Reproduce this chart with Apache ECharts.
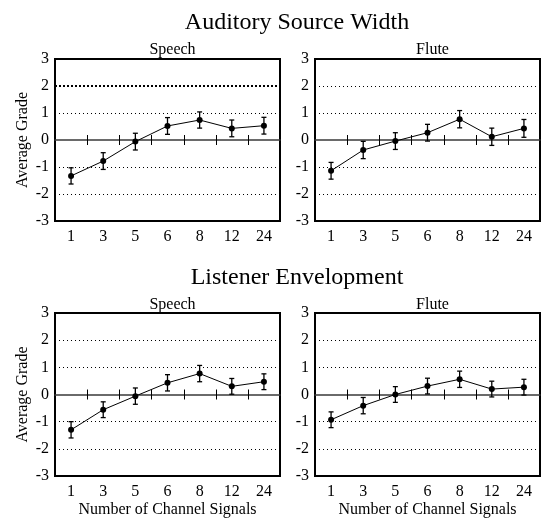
<!DOCTYPE html>
<html><head><meta charset="utf-8">
<script src="https://cdn.jsdelivr.net/npm/echarts@6/dist/echarts.min.js"></script>
<style>html,body{margin:0;padding:0;background:#fff}#c{width:542px;height:528px}</style>
</head><body><div id="c"></div>
<script>
const categories = ['1','3','5','6','8','12','24'];
const yTicks = [-3,-2,-1,0,1,2,3];
const aswSpeech = [-1.33,-0.78,-0.06,0.52,0.74,0.43,0.53];
const aswSpeechErr = [0.30,0.31,0.31,0.31,0.30,0.31,0.31];
const aswFlute = [-1.14,-0.37,-0.04,0.27,0.77,0.12,0.43];
const aswFluteErr = [0.31,0.32,0.31,0.31,0.32,0.32,0.33];
const leSpeech = [-1.30,-0.56,-0.06,0.43,0.77,0.30,0.47];
const leSpeechErr = [0.30,0.29,0.30,0.30,0.30,0.29,0.29];
const leFlute = [-0.93,-0.41,0.00,0.31,0.56,0.20,0.27];
const leFluteErr = [0.29,0.30,0.29,0.29,0.30,0.29,0.29];

const panels = [
  {vals: aswSpeech, err: aswSpeechErr, sub: 'Speech'},
  {vals: aswFlute, err: aswFluteErr, sub: 'Flute'},
  {vals: leSpeech, err: leSpeechErr, sub: 'Speech'},
  {vals: leFlute, err: leFluteErr, sub: 'Flute'}
];
const F = 'Liberation Serif, Times New Roman, serif';
const rects = [
  {left:55, top:59, width:225, height:162},
  {left:315, top:59, width:225, height:162},
  {left:55, top:313, width:225, height:163},
  {left:315, top:313, width:225, height:163}
];
const gridVals = yTicks.filter(v => v !== 0 && Math.abs(v) !== 3);
const grid = [], xAxis = [], yAxis = [], series = [];
rects.forEach((r, i) => {
  grid.push(Object.assign({show:true, borderColor:'#000', borderWidth:2, backgroundColor:'transparent'}, r));
  const base = {type:'category', data:categories, gridIndex:i, boundaryGap:true, position:'bottom'};
  xAxis.push(Object.assign({}, base, {axisLine:{show:false, onZero:false}, axisTick:{show:false},
    axisLabel:{color:'#000', fontFamily:F, fontSize:16, margin:8},
    name: i >= 2 ? 'Number of Channel Signals' : '', nameLocation:'middle', nameGap:26,
    nameTextStyle:{color:'#000', fontFamily:F, fontSize:16}}));
  xAxis.push(Object.assign({}, base, {axisLine:{show:true, onZero:true, lineStyle:{color:'#3a3a3a', width:1.5}},
    axisTick:{show:false}, axisLabel:{show:false}}));
  yAxis.push({type:'value', gridIndex:i, min:yTicks[0], max:yTicks[yTicks.length-1], interval:1,
    axisLine:{show:false}, axisTick:{show:false},
    axisLabel:{color:'#000', fontFamily:F, fontSize:16, margin:6},
    splitLine:{show:false},
    name: (i % 2 === 0) ? 'Average Grade' : '', nameLocation:'middle', nameGap:24, nameRotate:90,
    nameTextStyle:{color:'#000', fontFamily:F, fontSize:16}});
  const p = panels[i];
  series.push({type:'custom', xAxisIndex:i*2, yAxisIndex:i, z:4, animation:false, silent:true,
    data: categories.slice(1).map((c, k) => [k + 1, 0]),
    renderItem: function(params, api) {
      const pt = api.coord([api.value(0), api.value(1)]);
      const half = api.size([1, 0])[0] / 2;
      const x = Math.round(pt[0] - half) + 0.5;
      return {type:'line', shape:{x1:x, y1:pt[1]-5, x2:x, y2:pt[1]+5}, style:{stroke:'#000', lineWidth:1}};
    }});
  series.push({type:'line', xAxisIndex:i*2, yAxisIndex:i, data:p.vals, symbol:'circle', symbolSize:6,
    itemStyle:{color:'#000'}, lineStyle:{color:'#000', width:1}, z:5, animation:false,
    markLine: {silent:true, symbol:'none', label:{show:false}, animation:false, z:1,
      data: gridVals.map(v => ({yAxis:v, lineStyle: (i === 0 && v === 2)
        ? {color:'#000', type:[2,2], width:2}
        : {color:'#000', type:[1,3], width:1}}))}});
  series.push({type:'custom', xAxisIndex:i*2, yAxisIndex:i, z:6, animation:false,
    data: p.vals.map((v, k) => [k, v - p.err[k], v + p.err[k]]),
    renderItem: function(params, api) {
      const lo = api.coord([api.value(0), api.value(1)]);
      const hi = api.coord([api.value(0), api.value(2)]);
      const w = 2.5;
      const st = {stroke:'#000', lineWidth:1.3};
      return {type:'group', children:[
        {type:'line', shape:{x1:lo[0], y1:lo[1], x2:hi[0], y2:hi[1]}, style:st},
        {type:'line', shape:{x1:lo[0]-w, y1:lo[1], x2:lo[0]+w, y2:lo[1]}, style:st},
        {type:'line', shape:{x1:hi[0]-w, y1:hi[1], x2:hi[0]+w, y2:hi[1]}, style:st}
      ]};
    }});
});
const title = [
  {text:'Auditory Source Width', left:292, top:6, textAlign:'center', textStyle:{fontFamily:F, fontSize:24, fontWeight:'normal', color:'#000'}},
  {text:'Listener Envelopment', left:292, top:261, textAlign:'center', textStyle:{fontFamily:F, fontSize:24, fontWeight:'normal', color:'#000'}}
];
const subTops = [37, 37, 292, 292];
rects.forEach((r, i) => {
  title.push({text:panels[i].sub, left:r.left + r.width/2, top:subTops[i], textAlign:'center',
    textStyle:{fontFamily:F, fontSize:16, fontWeight:'normal', color:'#000'}});
});
const chart = echarts.init(document.getElementById('c'), null, {renderer:'canvas'});
chart.setOption({animation:false, backgroundColor:'#fff', title, grid, xAxis, yAxis, series});
</script></body></html>
